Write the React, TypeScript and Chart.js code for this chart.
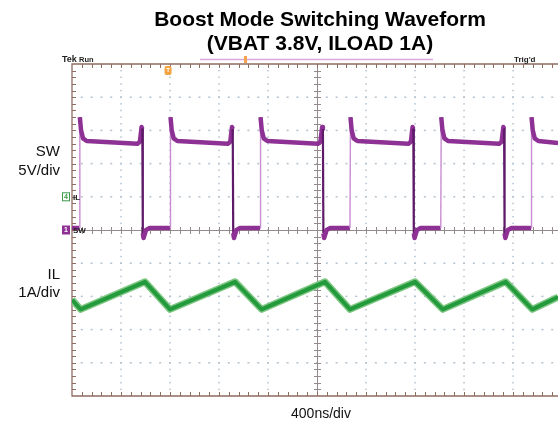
import React, { useEffect, useRef } from 'react';
import { Chart, registerables } from 'chart.js';

Chart.register(...registerables);

// ---------- text ----------
const TITLE_LINES = ['Boost Mode Switching Waveform', '(VBAT 3.8V, ILOAD 1A)'];
const X_LABEL = '400ns/div';
const SW_LABEL = ['SW', '5V/div'];
const IL_LABEL = ['IL', '1A/div'];
const SCOPE_TOP_LEFT = ['Tek', 'Run'];
const SCOPE_TOP_RIGHT = "Trig'd";

// ---------- scales ----------
const NS_PER_DIV = 400;
const V_PER_DIV = 5;
const A_PER_DIV = 1;
const X_DIVS = 10;
const Y_DIVS = 10;
const X_VISIBLE_MAX_NS = 3967; // the right edge of the screen shot is cropped
const IL_ZERO_DIV_ABOVE_CENTER = 1;
const TRIGGER_NS = 784;

// ---------- SW node voltage (V) ----------
const SW_TIME_NS = [
  0, 60, 64, 74, 90, 120, 534, 554, 568, 574, 578, 584, 604, 634,
  800, 804, 814, 830, 860, 1272, 1292, 1306, 1312, 1316, 1322, 1342, 1372,
  1535, 1539, 1549, 1565, 1595, 2008, 2028, 2042, 2048, 2052, 2058, 2078, 2108,
  2269, 2273, 2283, 2299, 2329, 2746, 2766, 2780, 2786, 2790, 2796, 2816, 2846,
  3010, 3014, 3024, 3040, 3070, 3487, 3507, 3521, 3527, 3531, 3537, 3557, 3587,
  3747, 3751, 3761, 3777, 3807, 3967,
];
const SW_VOLTS = [
  0.3, 0.3, 17.0, 15.0, 13.8, 13.4, 13.0, 13.3, 15.5, 15.2, -0.5, -1.2, 0.0, 0.3,
  0.3, 17.0, 15.0, 13.8, 13.4, 13.0, 13.3, 15.5, 15.2, -0.5, -1.2, 0.0, 0.3,
  0.3, 17.0, 15.0, 13.8, 13.4, 13.0, 13.3, 15.5, 15.2, -0.5, -1.2, 0.0, 0.3,
  0.3, 17.0, 15.0, 13.8, 13.4, 13.0, 13.3, 15.5, 15.2, -0.5, -1.2, 0.0, 0.3,
  0.3, 17.0, 15.0, 13.8, 13.4, 13.0, 13.3, 15.5, 15.2, -0.5, -1.2, 0.0, 0.3,
  0.3, 17.0, 15.0, 13.8, 13.4, 13.1,
];

// ---------- inductor current (A, as displayed by the probe) ----------
const IL_TIME_NS = [0, 71, 596, 800, 1331, 1548, 2065, 2269, 2800, 3026, 3540, 3757, 3967];
const IL_AMPS = [-3.1, -3.39, -2.56, -3.39, -2.56, -3.39, -2.56, -3.39, -2.56, -3.39, -2.56, -3.39, -3.02];

const FONT = '"Liberation Sans", Arial, Helvetica, sans-serif';

const graticulePlugin = {
  id: 'graticule',
  beforeDatasetsDraw(chart: any) {
    const { ctx, chartArea, scales } = chart;
    const { left, right, top, bottom } = chartArea;
    const x = scales.x;
    const y = scales.ySW;
    const minorX = NS_PER_DIV / 5;
    const minorY = V_PER_DIV / 5;
    const yMin = -(Y_DIVS / 2) * V_PER_DIV;
    const yMax = (Y_DIVS / 2) * V_PER_DIV;
    const centerNs = (X_DIVS / 2) * NS_PER_DIV;
    ctx.save();
    // dotted major division lines
    ctx.fillStyle = '#b4c2d0';
    for (let d = 1; d < X_DIVS; d++) {
      if (d === X_DIVS / 2) continue;
      const px = x.getPixelForValue(d * NS_PER_DIV);
      if (px > right) continue;
      for (let v = yMin + minorY; v < yMax; v += minorY) {
        const py = y.getPixelForValue(v);
        ctx.fillRect(px - 0.75, py - 0.75, 1.5, 1.5);
      }
    }
    for (let d = 1; d < Y_DIVS; d++) {
      if (d === Y_DIVS / 2) continue;
      const py = y.getPixelForValue(yMin + d * V_PER_DIV);
      for (let t = minorX; t < X_VISIBLE_MAX_NS; t += minorX) {
        const px = x.getPixelForValue(t);
        ctx.fillRect(px - 1, py - 0.75, 2, 1.5);
      }
    }
    // center lines with minor ticks
    const cy = y.getPixelForValue(0);
    const cx = x.getPixelForValue(centerNs);
    ctx.strokeStyle = '#938a8c';
    ctx.lineWidth = 1;
    ctx.beginPath();
    ctx.moveTo(left, cy + 0.5);
    ctx.lineTo(right, cy + 0.5);
    ctx.moveTo(cx + 0.5, top);
    ctx.lineTo(cx + 0.5, bottom);
    for (let t = minorX; t < X_VISIBLE_MAX_NS; t += minorX) {
      const px = Math.round(x.getPixelForValue(t)) + 0.5;
      ctx.moveTo(px, cy - 3);
      ctx.lineTo(px, cy + 4);
    }
    for (let v = yMin + minorY; v < yMax; v += minorY) {
      const py = Math.round(y.getPixelForValue(v)) + 0.5;
      ctx.moveTo(cx - 3, py);
      ctx.lineTo(cx + 4, py);
    }
    ctx.stroke();
    // border with inward ticks
    ctx.strokeStyle = '#8f6d62';
    ctx.lineWidth = 1.3;
    ctx.beginPath();
    ctx.moveTo(right, top);
    ctx.lineTo(left, top);
    ctx.lineTo(left, bottom);
    ctx.lineTo(right, bottom);
    ctx.stroke();
    ctx.lineWidth = 1;
    ctx.beginPath();
    for (let t = minorX; t < X_VISIBLE_MAX_NS; t += minorX) {
      const px = Math.round(x.getPixelForValue(t)) + 0.5;
      ctx.moveTo(px, top);
      ctx.lineTo(px, top + 4);
      ctx.moveTo(px, bottom);
      ctx.lineTo(px, bottom - 4);
    }
    for (let v = yMin + minorY; v < yMax; v += minorY) {
      const py = Math.round(y.getPixelForValue(v)) + 0.5;
      ctx.moveTo(left, py);
      ctx.lineTo(left + 4, py);
    }
    ctx.stroke();
    ctx.restore();
  },
  afterDraw(chart: any) {
    const { ctx, chartArea, scales } = chart;
    const { left, top } = chartArea;
    ctx.save();
    // titles
    ctx.fillStyle = '#000';
    ctx.textAlign = 'center';
    ctx.textBaseline = 'alphabetic';
    ctx.font = `bold 21px ${FONT}`;
    ctx.fillText(TITLE_LINES[0], 320, 26);
    ctx.fillText(TITLE_LINES[1], 320, 50);
    // x label
    ctx.font = `14px ${FONT}`;
    ctx.fillStyle = '#111';
    ctx.fillText(X_LABEL, 321, 418);
    // channel labels
    ctx.textAlign = 'right';
    ctx.font = `15px ${FONT}`;
    ctx.fillText(SW_LABEL[0], 60, 156);
    ctx.fillText(SW_LABEL[1], 60, 175);
    ctx.fillText(IL_LABEL[0], 60, 279);
    ctx.fillText(IL_LABEL[1], 60, 297);
    // scope header
    ctx.textAlign = 'left';
    ctx.fillStyle = '#222';
    ctx.font = `bold 9px ${FONT}`;
    ctx.fillText(SCOPE_TOP_LEFT[0], 62, 62);
    ctx.font = `bold 7.5px ${FONT}`;
    ctx.fillText(SCOPE_TOP_LEFT[1], 79, 62);
    ctx.font = `bold 8px ${FONT}`;
    ctx.fillText(SCOPE_TOP_RIGHT, 514, 62);
    // record bar
    ctx.strokeStyle = '#dba7dc';
    ctx.lineWidth = 1.5;
    ctx.beginPath();
    ctx.moveTo(200, 59.5);
    ctx.lineTo(433, 59.5);
    ctx.stroke();
    ctx.fillStyle = '#f2a54a';
    ctx.fillRect(244, 56, 3, 7);
    // trigger marker
    const tx = scales.x.getPixelForValue(TRIGGER_NS);
    ctx.fillStyle = '#f3a33f';
    ctx.beginPath();
    ctx.roundRect(tx - 3.5, top + 2, 7, 9, 2);
    ctx.fill();
    ctx.fillStyle = '#fff';
    ctx.font = `bold 6px ${FONT}`;
    ctx.textAlign = 'center';
    ctx.textBaseline = 'middle';
    ctx.fillText('T', tx, top + 6.8);
    // channel ground markers
    const ilY = scales.yIL.getPixelForValue(0);
    const swY = scales.ySW.getPixelForValue(0);
    ctx.strokeStyle = '#3c9a4c';
    ctx.lineWidth = 1;
    ctx.strokeRect(62.5, ilY - 4, 7, 8);
    ctx.fillStyle = '#3c9a4c';
    ctx.font = `bold 7px ${FONT}`;
    ctx.fillText('4', 66, ilY + 0.5);
    ctx.fillStyle = '#8d3294';
    ctx.fillRect(62, swY - 4.5, 8, 9);
    ctx.fillStyle = '#fff';
    ctx.fillText('1', 66, swY + 0.5);
    ctx.fillStyle = '#222';
    ctx.textAlign = 'left';
    ctx.font = `bold 8px ${FONT}`;
    ctx.fillText('IL', left + 1, ilY + 0.5);
    ctx.fillText('SW', left + 1, swY + 0.5);
    ctx.restore();
  },
};

export default function App() {
  const canvasRef = useRef<HTMLCanvasElement | null>(null);

  useEffect(() => {
    if (!canvasRef.current) return;
    const swData = SW_TIME_NS.map((t, i) => ({ x: t, y: SW_VOLTS[i] }));
    const ilData = IL_TIME_NS.map((t, i) => ({ x: t, y: IL_AMPS[i] }));
    const edge = (c: any) => {
      const dx = Math.abs(c.p1.x - c.p0.x);
      const dy = c.p1.y - c.p0.y;
      if (dx < 2 && dy < -40) return 'rise';
      if (dx < 2 && dy > 40) return 'fall';
      return '';
    };
    const chart = new Chart(canvasRef.current, {
      type: 'line',
      data: {
        datasets: [
          {
            label: 'SW',
            data: swData,
            yAxisID: 'ySW',
            borderColor: '#8e3195',
            borderWidth: 4.5,
            pointRadius: 0,
            tension: 0,
            borderJoinStyle: 'round',
            order: 0,
            segment: {
              borderWidth: (c: any) => {
                const e = edge(c);
                return e === 'rise' ? 1.4 : e === 'fall' ? 2.2 : undefined;
              },
              borderColor: (c: any) => {
                const e = edge(c);
                return e === 'rise' ? '#c98dd1' : e === 'fall' ? '#5f1a6a' : undefined;
              },
            },
          },
          {
            label: 'IL',
            data: ilData,
            yAxisID: 'yIL',
            borderColor: '#239a3c',
            borderWidth: 4,
            pointRadius: 0,
            tension: 0,
            borderJoinStyle: 'round',
            order: 1,
          },
          {
            label: 'IL halo',
            data: ilData,
            yAxisID: 'yIL',
            borderColor: '#7fc783',
            borderWidth: 7,
            pointRadius: 0,
            tension: 0,
            borderJoinStyle: 'round',
            order: 2,
          },
        ],
      },
      options: {
        animation: false,
        responsive: false,
        layout: { padding: { left: 72, top: 64, right: 0, bottom: 31 } },
        plugins: {
          legend: { display: false },
          title: { display: false },
          tooltip: { enabled: false },
        },
        scales: {
          x: { type: 'linear', min: 0, max: X_VISIBLE_MAX_NS, display: false },
          ySW: {
            type: 'linear',
            position: 'left',
            min: -(Y_DIVS / 2) * V_PER_DIV,
            max: (Y_DIVS / 2) * V_PER_DIV,
            display: false,
          },
          yIL: {
            type: 'linear',
            position: 'right',
            min: -(Y_DIVS / 2 + IL_ZERO_DIV_ABOVE_CENTER) * A_PER_DIV,
            max: (Y_DIVS / 2 - IL_ZERO_DIV_ABOVE_CENTER) * A_PER_DIV,
            display: false,
          },
        },
      } as any,
      plugins: [graticulePlugin],
    });
    return () => chart.destroy();
  }, []);

  return (
    <div style={{ position: 'absolute', left: 0, top: 0, width: 558, height: 427, background: '#fff' }}>
      <canvas ref={canvasRef} width={558} height={427} style={{ display: 'block' }} />
    </div>
  );
}
